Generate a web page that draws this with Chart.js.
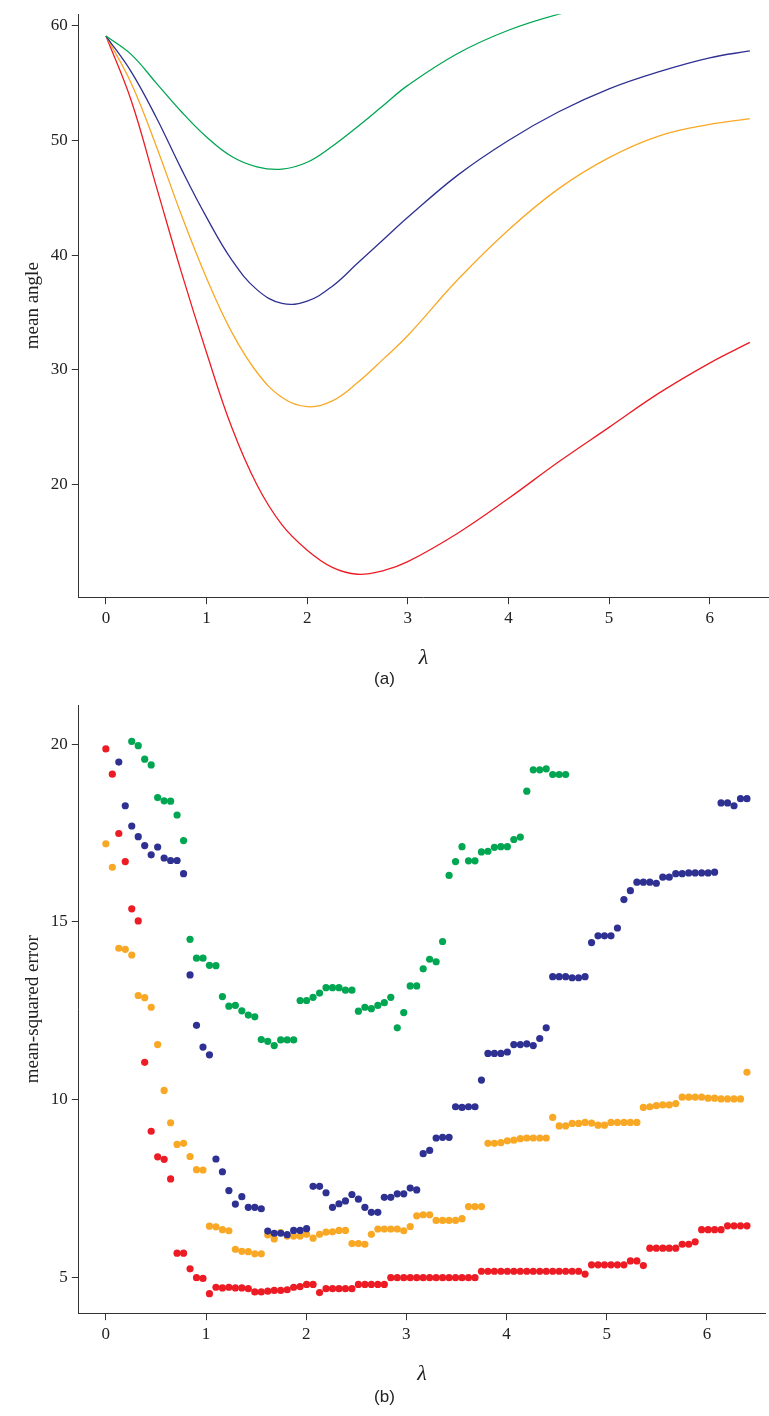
<!DOCTYPE html>
<html>
<head>
<meta charset="utf-8">
<script src="https://cdn.jsdelivr.net/npm/chart.js@4"></script>
<style>
body { margin: 0; background: #fff; }
.box { position: absolute; left: 0; width: 769px; }
.cap { position: absolute; left: 0; width: 769px; text-align: center; font: 17px "Liberation Sans", Arial, sans-serif; color: #222; }
</style>
</head>
<body>
<div class="box" style="top:0;height:700px"><canvas id="angleChart"></canvas></div>
<div class="cap" style="top:669px">(a)</div>
<div class="box" style="top:691px;height:725px"><canvas id="mseChart"></canvas></div>
<div class="cap" style="top:1387px">(b)</div>
<script>
// panel (a): curves read at these lambda values
var lambdaA = [0, 0.25, 0.5, 0.75, 1.0, 1.25, 1.5, 1.75, 2.0, 2.25, 2.5, 2.75, 3.0, 3.5, 4.0, 4.5, 5.0, 5.5, 6.0, 6.4];
var angleGreen  = [59.1, 57.5, 55.0, 52.5, 50.3, 48.6, 47.7, 47.5, 48.1, 49.5, 51.2, 53.0, 54.8, 57.6, 59.6, 61.0, 62.0, 62.6, 63.0, 63.2];
var angleBlue   = [59.1, 56.0, 52.0, 47.5, 43.3, 39.6, 37.0, 35.8, 36.0, 37.3, 39.3, 41.3, 43.3, 47.0, 50.0, 52.5, 54.5, 56.0, 57.2, 57.8];
var angleOrange = [59.1, 55.0, 49.5, 43.5, 38.0, 33.3, 29.8, 27.6, 26.8, 27.3, 28.9, 30.9, 33.0, 37.9, 42.2, 45.8, 48.5, 50.4, 51.4, 51.9];
var angleRed    = [59.1, 53.5, 46.0, 38.5, 31.5, 25.0, 20.0, 16.5, 14.3, 12.8, 12.2, 12.5, 13.3, 15.8, 18.8, 22.0, 25.0, 28.0, 30.6, 32.4];

// panel (b): 100 lambda values from 0 to 6.4
var lambdaB = [];
for (var i = 0; i < 100; i++) lambdaB.push(i * 6.4 / 99);

var mseRed = [19.87,19.16,17.49,16.70,15.37,15.03,11.05,9.11,8.39,8.32,7.77,5.68,5.68,5.24,4.99,4.97,4.54,4.72,4.70,4.72,
  4.70,4.70,4.68,4.59,4.59,4.61,4.63,4.63,4.65,4.72,4.74,4.80,4.80,4.57,4.68,4.68,4.68,4.68,4.68,4.80,
  4.80,4.80,4.80,4.80,4.99,4.99,4.99,4.99,4.99,4.99,4.99,4.99,4.99,4.99,4.99,4.99,4.99,4.99,5.17,5.17,
  5.17,5.17,5.17,5.17,5.17,5.17,5.17,5.17,5.17,5.17,5.17,5.17,5.17,5.17,5.09,5.35,5.35,5.35,5.35,5.35,
  5.35,5.46,5.46,5.33,5.82,5.82,5.82,5.82,5.82,5.93,5.93,6.00,6.34,6.34,6.34,6.34,6.45,6.45,6.45,6.45];
var mseOrange = [17.2,16.54,14.26,14.23,14.07,12.93,12.87,12.6,11.55,10.26,9.35,8.74,8.77,8.40,8.03,8.02,6.44,6.42,6.34,6.31,
  5.79,5.73,5.72,5.66,5.66,6.19,6.08,6.26,6.16,6.16,6.16,6.21,6.10,6.21,6.27,6.28,6.32,6.32,5.95,5.95,
  5.93,6.21,6.36,6.36,6.36,6.36,6.31,6.43,6.73,6.76,6.76,6.60,6.60,6.60,6.60,6.65,6.99,6.99,6.99,8.77,
  8.77,8.79,8.84,8.86,8.90,8.92,8.92,8.92,8.92,9.50,9.26,9.26,9.33,9.33,9.36,9.34,9.28,9.28,9.36,9.36,
  9.36,9.36,9.36,9.78,9.80,9.83,9.85,9.85,9.89,10.07,10.07,10.07,10.07,10.04,10.04,10.02,10.02,10.02,10.02,10.77];
var mseBlue = [null,null,19.5,18.27,17.7,17.4,17.15,16.89,17.11,16.8,16.73,16.73,16.36,13.51,12.09,11.48,11.26,8.33,7.97,7.44,
  7.06,7.27,6.97,6.97,6.93,6.30,6.24,6.24,6.20,6.32,6.32,6.37,7.56,7.56,7.38,6.97,7.07,7.15,7.33,7.20,
  6.97,6.83,6.83,7.25,7.25,7.35,7.35,7.51,7.46,8.48,8.57,8.92,8.94,8.94,9.80,9.78,9.80,9.80,10.55,11.30,
  11.30,11.30,11.34,11.55,11.55,11.57,11.52,11.72,12.02,13.46,13.46,13.46,13.43,13.43,13.46,14.42,14.61,14.61,14.61,14.83,
  15.63,15.88,16.12,16.12,16.12,16.09,16.26,16.26,16.36,16.36,16.38,16.38,16.38,16.38,16.40,18.35,18.35,18.27,18.47,18.47];
var mseGreen = [null,null,null,null,20.08,19.96,19.58,19.42,18.5,18.41,18.40,18.01,17.29,14.51,13.98,13.98,13.78,13.77,12.9,12.63,
  12.65,12.5,12.38,12.33,11.69,11.64,11.52,11.68,11.68,11.68,12.79,12.79,12.88,13.0,13.15,13.15,13.15,13.08,13.08,12.49,
  12.6,12.56,12.65,12.73,12.88,12.02,12.45,13.2,13.2,13.68,13.95,13.88,14.45,16.31,16.7,17.12,16.72,16.72,16.97,16.99,
  17.1,17.12,17.12,17.32,17.39,18.68,19.28,19.28,19.31,19.15,19.15,19.15];

var xTicks = [0, 1, 2, 3, 4, 5, 6];
var yTicksA = [20, 30, 40, 50, 60];
var yTicksB = [5, 10, 15, 20];

var GREEN = "#00a651", BLUE = "#2e3192", ORANGE = "#f9a825", RED = "#ed1c24";
var serif = "'Liberation Serif', 'DejaVu Serif', serif";

function pairs(xs, ys) {
    var out = [];
    for (var k = 0; k < ys.length; k++) {
        if (ys[k] !== null) out.push({ x: xs[k], y: ys[k] });
    }
    return out;
}

function axes(yMin, yMax, yTicks, yTitle) {
    var common = {
        grid: { display: true, drawOnChartArea: false, drawTicks: true, tickLength: 7, color: "#333" },
        border: { display: true, color: "#333", width: 1 },
        ticks: { color: "#222", font: { family: serif, size: 17 }, padding: 4 }
    };
    return {
        x: Object.assign({}, common, {
            type: "linear", min: -0.27, max: 6.58,
            afterBuildTicks: function (s) { s.ticks = xTicks.map(function (v) { return { value: v }; }); },
            title: { display: true, text: "λ", color: "#222", font: { family: serif, size: 22, style: "italic" }, padding: { top: 12 } }
        }),
        y: Object.assign({}, common, {
            min: yMin, max: yMax,
            afterBuildTicks: function (s) { s.ticks = yTicks.map(function (v) { return { value: v }; }); },
            title: { display: true, text: yTitle, color: "#222", font: { family: serif, size: 19 }, padding: { bottom: 2 } }
        })
    };
}

function line(data, color) {
    return { data: pairs(lambdaA, data), borderColor: color, borderWidth: 1.3, pointRadius: 0,
             showLine: true, tension: 0.4 };
}
function dots(data, color) {
    return { data: pairs(lambdaB, data), backgroundColor: color, borderColor: color,
             pointRadius: 3.6, borderWidth: 0, showLine: false };
}

var base = {
    responsive: true, maintainAspectRatio: false, animation: false,
    plugins: { legend: { display: false }, tooltip: { enabled: false } }
};

new Chart(document.getElementById("angleChart"), {
    type: "scatter",
    data: { datasets: [line(angleGreen, GREEN), line(angleBlue, BLUE), line(angleOrange, ORANGE), line(angleRed, RED)] },
    options: Object.assign({}, base, {
        layout: { padding: { top: 5, right: 1, bottom: 25, left: 18 } },
        scales: axes(10.2, 61, yTicksA, "mean angle")
    })
});

new Chart(document.getElementById("mseChart"), {
    type: "scatter",
    data: { datasets: [dots(mseGreen, GREEN), dots(mseBlue, BLUE), dots(mseOrange, ORANGE), dots(mseRed, RED)] },
    options: Object.assign({}, base, {
        layout: { padding: { top: 0, right: 1, bottom: 25, left: 18 } },
        scales: axes(3.99, 21.1, yTicksB, "mean-squared error")
    })
});
</script>
</body>
</html>
